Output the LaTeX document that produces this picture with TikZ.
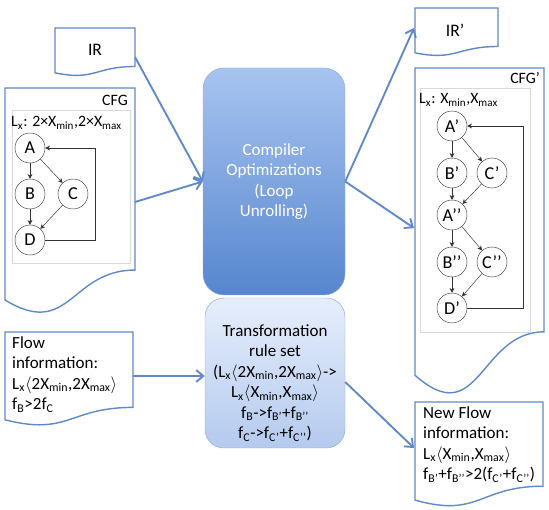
\documentclass[tikz,border=0pt]{standalone}
\usepackage{fontspec}
\setmainfont{Carlito}
\usetikzlibrary{arrows.meta}

\definecolor{docblue}{RGB}{96,137,200}
\definecolor{opttop}{RGB}{168,196,240}
\definecolor{optbot}{RGB}{86,134,206}
\definecolor{rultop}{RGB}{230,238,251}
\definecolor{rulbot}{RGB}{180,202,238}

\newcommand{\sbs}[1]{\textsubscript{#1}}
% document shape: left x, top y, right x, height
\newcommand{\docshape}[4]{%
  \draw[doc] (#1,#2) -- (#3,#2) -- (#3,{#2+0.802*#4})
    .. controls ({(#1+#3)/2},{#2+0.802*#4}) and ({(#1+#3)/2},{#2+1.1075*#4}) .. (#1,{#2+0.934*#4}) -- cycle;}

\tikzset{
  doc/.style={draw=docblue, line width=1.2pt, fill=white},
  flow/.style={draw=docblue, line width=1.6pt, -{Straight Barb[length=6pt,width=10pt]}},
  vert/.style={circle, draw=black!75, thin, minimum size=0.9cm, inner sep=0pt, font=\fontsize{15.5}{17}\selectfont},
  edge/.style={-{Stealth[length=4pt,width=4pt]}, black!80, thin},
  frame/.style={draw=black!15, thin},
  doctext/.style={anchor=north west, align=left, inner sep=0pt, font=\fontsize{14.5}{17.5}\selectfont},
  optbox/.style={rounded corners=18pt, draw=docblue!70, thin, top color=opttop, bottom color=optbot,
    minimum width=142*0.03cm, minimum height=227*0.03cm},
  rulbox/.style={rounded corners=16pt, draw=docblue!70, thin, top color=rultop, bottom color=rulbot,
    minimum width=140*0.03cm, minimum height=150*0.03cm}
}

\begin{document}
\begin{tikzpicture}[x=0.03cm,y=-0.03cm]
    \useasboundingbox (0,0) rectangle (549,510);
    %
    % input documents
    \docshape{55}{28}{135}{48}
    \node[font=\fontsize{15}{17}\selectfont] (ir) at (95,50) {IR};
    \docshape{5}{88}{135}{227}
    \draw[frame] (12,110) rectangle (130,263);
    \node[font=\fontsize{13.5}{15}\selectfont, anchor=east, inner sep=0pt] (cfg) at (128,100) {CFG};
    \node[font=\fontsize{13.5}{15}\selectfont, anchor=west, inner sep=0pt] (lx) at (11,123)
        {L\sbs{x}: 2×X\sbs{min},2×X\sbs{max}};
    \docshape{5}{332}{133}{94}
    \node[doctext] (flowinfo) at (12,336)
        {Flow\\information:\\L\sbs{x}$\langle$2X\sbs{min},2X\sbs{max}$\rangle$\\f\sbs{B}>2f\sbs{C}};
    %
    % graph before
    \node[vert] (A) at (30,148) {A};
    \node[vert] (B) at (30,194) {B};
    \node[vert] (C) at (73,194) {C};
    \node[vert] (D) at (30,240) {D};
    \coordinate (loop1) at (95,148);
    \draw[edge] (A) -- (B);
    \draw[edge] (A) -- (C);
    \draw[edge] (B) -- (D);
    \draw[edge] (C) -- (D);
    \draw[edge] (D.east) -| (loop1) -- (A.east);
    %
    % output documents
    \docshape{415}{8}{498}{48}
    \node[font=\fontsize{15}{17}\selectfont] (irp) at (455,30) {IR’};
    \docshape{415}{68}{544}{329}
    \draw[frame] (420,88) rectangle (530,332);
    \node[font=\fontsize{13.5}{15}\selectfont, anchor=east, inner sep=0pt] (cfgp) at (540,78) {CFG’};
    \node[font=\fontsize{13.5}{15}\selectfont, anchor=west, inner sep=0pt] (lxp) at (419,100)
        {L\sbs{x}: X\sbs{min},X\sbs{max}};
    \docshape{415}{402}{543}{105}
    \node[doctext] (newflow) at (423,406)
        {New Flow\\information:\\L\sbs{x}$\langle$X\sbs{min},X\sbs{max}$\rangle$\\f\sbs{B’}+f\sbs{B’’}>2(f\sbs{C’}+f\sbs{C’’})};
    %
    % graph after unrolling
    \node[vert] (A1) at (452,126) {A’};
    \node[vert] (B1) at (452,173) {B’};
    \node[vert] (C1) at (492,173) {C’};
    \node[vert] (A2) at (452,215) {A’’};
    \node[vert] (B2) at (452,262) {B’’};
    \node[vert] (C2) at (492,262) {C’’};
    \node[vert] (D1) at (452,308) {D’};
    \coordinate (loop2) at (523,126);
    \draw[edge] (A1) -- (B1);
    \draw[edge] (A1) -- (C1);
    \draw[edge] (B1) -- (A2);
    \draw[edge] (C1) -- (A2);
    \draw[edge] (A2) -- (B2);
    \draw[edge] (A2) -- (C2);
    \draw[edge] (B2) -- (D1);
    \draw[edge] (C2) -- (D1);
    \draw[edge] (D1.east) -| (loop2) -- (A1.east);
    %
    % middle boxes
    \node[optbox, text=white, align=center, font=\fontsize{14.5}{17.5}\selectfont] (opt) at (274,181.5)
        {Compiler\\Optimizations\\(Loop\\Unrolling)};
    \node[rulbox] (rules) at (275,373) {};
    \node[align=center, font=\fontsize{14.5}{17.5}\selectfont, inner sep=0pt] (rulestext) at (275,383)
        {Transformation\\rule set\\(L\sbs{x}$\langle$2X\sbs{min},2X\sbs{max}$\rangle$->\\L\sbs{x}$\langle$X\sbs{min},X\sbs{max}$\rangle$\\f\sbs{B}->f\sbs{B’}+f\sbs{B’’}\\f\sbs{C}->f\sbs{C’}+f\sbs{C’’})};
    %
    % connectors
    \coordinate (ir-e) at (135,57);
    \coordinate (cfg-e) at (135,202);
    \coordinate (irp-w) at (414,28);
    \coordinate (cfgp-w) at (414,228);
    \coordinate (flow-e) at (133,376);
    \coordinate (newflow-w) at (414,448);
    \draw[flow] (ir-e) -- (opt.west);
    \draw[flow] (cfg-e) -- (opt.west);
    \draw[flow] (opt.east) -- (irp-w);
    \draw[flow] (opt.east) -- (cfgp-w);
    \draw[flow] (flow-e) -- (flow-e -| rules.west);
    \draw[flow] ([yshift=-9*0.03cm]rules.east) -- (newflow-w);
\end{tikzpicture}
\end{document}
